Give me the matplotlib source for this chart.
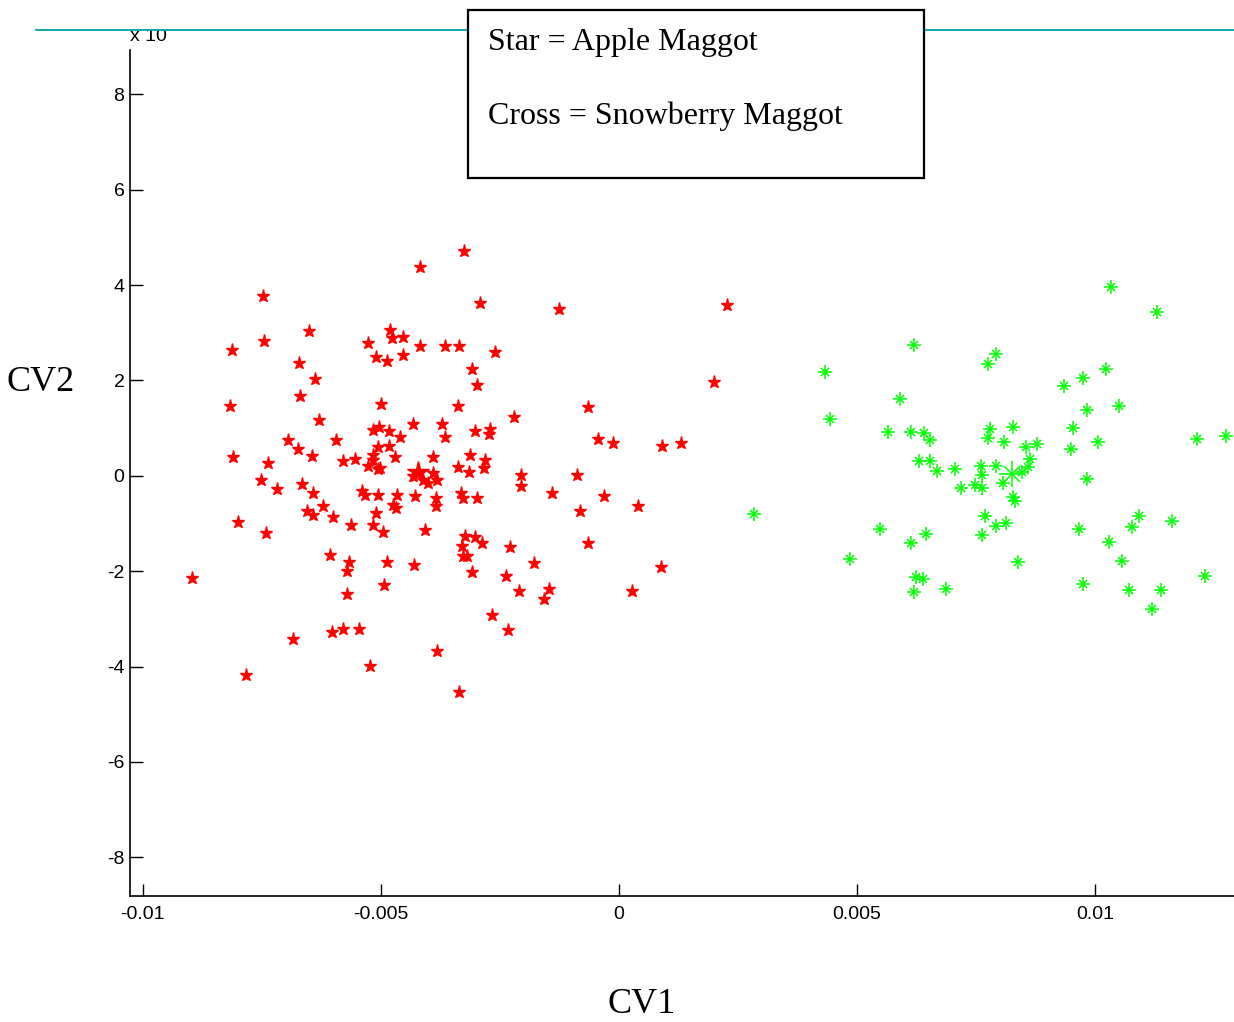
import matplotlib
matplotlib.use('Agg')
import matplotlib.pyplot as plt
from matplotlib.patches import Rectangle
from matplotlib.lines import Line2D

# ---- data (CV1 in raw units, CV2 in units of the axis multiplier) ----
apple_cv1 = [-7.485, -8.137, -7.458, -6.506, -6.723, -6.387, -8.172, -6.695, -6.296, -5.000,
             -5.273, -5.111, -4.874, -4.805, -4.769, -6.947, -6.750, -6.456, -5.939, -5.162,
             -5.036, -4.826, -5.069, -4.838, -5.174, -5.162, -8.109, -7.380, -5.792, -5.540,
             -5.267, -5.069, -4.712, -7.515, -7.179, -6.666, -6.422, -6.561, -6.422, -6.225,
             -6.002, -5.630, -5.393, -5.330, -5.069, -4.670, -5.111, -5.174, -4.964, -4.742,
             -4.685, -8.010, -7.422, -8.971, -6.065, -5.672, -5.708, -5.714, -4.880, -4.943,
             -6.855, -6.036, -5.792, -5.468, -5.231, -7.842, -3.250, -4.181, -2.926, -1.267,
             2.263, 1.989, -4.544, -4.181, -3.649, -3.355, -2.599, -4.544, -3.095, -2.989,
             -3.389, -2.206, -0.651, -0.447, -0.120, 0.903, 1.296, -4.321, -3.718, -3.649,
             -3.025, -2.710, -2.725, -4.601, -3.914, -3.130, -2.809, -2.830, -3.389, -3.158,
             -4.321, -4.111, -3.901, -3.830, -4.006, -5.021, -2.059, -2.059, -0.876, -1.408,
             -0.315, 0.405, -0.819, -4.286, -3.845, -3.845, -3.326, -3.284, -2.989, -4.076,
             -3.235, -3.025, -2.884, -3.305, -3.271, -3.187, -3.095, -2.296, -1.779, -2.368,
             -2.101, -1.471, -1.576, -0.651, 0.279, 0.876, -4.313, -2.662, -2.332, -3.817,
             -3.361]
apple_cv2 = [3.78, 2.63, 2.83, 3.03, 2.36, 2.03, 1.47, 1.68, 1.17, 1.51,
             2.78, 2.49, 2.40, 3.06, 2.90, 0.75, 0.56, 0.42, 0.75, 0.96,
             1.03, 0.94, 0.61, 0.62, 0.44, 0.34, 0.39, 0.28, 0.32, 0.36,
             0.21, 0.14, 0.39, -0.08, -0.28, -0.17, -0.35, -0.73, -0.82, -0.64,
             -0.87, -1.04, -0.31, -0.40, -0.40, -0.40, -0.77, -1.03, -1.17, -0.61,
             -0.68, -0.96, -1.20, -2.15, -1.66, -1.81, -1.99, -2.47, -1.80, -2.29,
             -3.42, -3.28, -3.21, -3.21, -3.98, -4.17, 4.71, 4.38, 3.62, 3.49,
             3.59, 1.97, 2.92, 2.73, 2.73, 2.73, 2.59, 2.53, 2.24, 1.91,
             1.47, 1.24, 1.45, 0.78, 0.69, 0.62, 0.69, 1.08, 1.08, 0.82,
             0.95, 0.99, 0.88, 0.82, 0.40, 0.44, 0.34, 0.16, 0.19, 0.09,
             -0.01, -0.08, 0.06, -0.08, -0.15, 0.16, 0.02, -0.21, 0.02, -0.36,
             -0.43, -0.64, -0.73, -0.43, -0.47, -0.64, -0.36, -0.47, -0.47, -1.13,
             -1.27, -1.29, -1.40, -1.47, -1.68, -1.69, -2.02, -1.49, -1.82, -2.11,
             -2.42, -2.38, -2.58, -1.40, -2.42, -1.92, -1.86, -2.91, -3.24, -3.67,
             -4.53]
apple_center = (-4.216, 0.09)

snow_cv1 = [10.336, 11.296, 6.204, 7.920, 7.758, 4.328, 10.231, 9.742, 9.342, 5.910,
            9.832, 10.498, 4.426, 5.651, 6.128, 6.401, 6.534, 7.788, 7.758, 8.284,
            8.082, 9.532, 9.496, 10.069, 8.544, 8.775, 8.628, 12.149, 12.746, 6.303,
            6.540, 6.674, 7.065, 7.611, 7.920, 7.626, 8.460, 8.599, 8.074, 7.473,
            7.626, 7.179, 9.832, 8.284, 8.319, 2.836, 7.683, 7.920, 8.124, 7.626,
            9.670, 10.924, 10.771, 11.624, 10.294, 5.477, 6.443, 6.134, 4.859, 8.389,
            10.567, 6.233, 6.393, 6.197, 6.876, 9.742, 10.721, 11.393, 12.317, 11.197]
snow_cv2 = [3.97, 3.44, 2.74, 2.55, 2.34, 2.18, 2.25, 2.05, 1.88, 1.62,
            1.39, 1.46, 1.19, 0.92, 0.93, 0.90, 0.75, 0.98, 0.79, 1.03,
            0.70, 1.00, 0.57, 0.70, 0.61, 0.67, 0.36, 0.77, 0.84, 0.31,
            0.31, 0.10, 0.14, 0.21, 0.21, 0.01, 0.09, 0.18, -0.15, -0.19,
            -0.26, -0.26, -0.06, -0.45, -0.52, -0.79, -0.85, -1.05, -0.98, -1.25,
            -1.11, -0.85, -1.08, -0.94, -1.38, -1.11, -1.21, -1.41, -1.74, -1.81,
            -1.78, -2.12, -2.17, -2.44, -2.37, -2.26, -2.40, -2.40, -2.10, -2.79]
snow_center = (8.263, 0.04)

x_ticks = [-0.01, -0.005, 0, 0.005, 0.01]
x_labels = ['-0.01', '-0.005', '0', '0.005', '0.01']
y_ticks = [-8, -6, -4, -2, 0, 2, 4, 6, 8]
legend_lines = ['Star = Apple Maggot', 'Cross = Snowberry Maggot']

W, H = 1234, 1022
fig = plt.figure(figsize=(W / 100, H / 100), dpi=100)
ax = fig.add_axes([130 / W, 1 - 896 / H, 1 - 130 / W, (896 - 50) / H])

ax_x = [v / 1000 for v in apple_cv1]
sn_x = [v / 1000 for v in snow_cv1]

ax.plot(ax_x, apple_cv2, linestyle='none', marker='*', ms=9.5,
        color='#ff0000', mec='#ff0000', clip_on=False)
ax.plot([apple_center[0] / 1000], [apple_center[1]], linestyle='none', marker='*',
        ms=16, color='#ff0000', mec='#ff0000', clip_on=False)

green = '#00ff00'
ax.plot(sn_x, snow_cv2, linestyle='none', marker='+', ms=10, mew=1.1,
        color=green, clip_on=False)
ax.plot(sn_x, snow_cv2, linestyle='none', marker='x', ms=6, mew=1.1,
        color=green, clip_on=False)
ax.plot([snow_center[0] / 1000], [snow_center[1]], linestyle='none', marker='+',
        ms=19, mew=1.1, color=green, clip_on=False)
ax.plot([snow_center[0] / 1000], [snow_center[1]], linestyle='none', marker='x',
        ms=12, mew=1.1, color=green, clip_on=False)

ax.set_xlim(-0.01027, 0.01292)
ax.set_ylim(-8.81, 8.93)
ax.set_xticks(x_ticks)
ax.set_xticklabels(x_labels)
ax.set_yticks(y_ticks)
ax.set_yticklabels([str(t) for t in y_ticks])
for s in ['top', 'right']:
    ax.spines[s].set_visible(False)
for s in ['left', 'bottom']:
    ax.spines[s].set_linewidth(1.2)
ax.tick_params(axis='both', direction='in', length=9, width=1.0,
               labelsize=14, colors='black')
ax.tick_params(axis='x', pad=7)
ax.tick_params(axis='y', pad=4)
for lab in ax.get_xticklabels() + ax.get_yticklabels():
    lab.set_fontfamily('Liberation Sans')

serif = 'Liberation Serif'
fig.text(6 / W, 1 - 391 / H, 'CV2', fontfamily=serif, fontsize=26,
         ha='left', va='baseline')
fig.text(642 / W, 1 - 1013 / H, 'CV1', fontfamily=serif, fontsize=26,
         ha='center', va='baseline')

fig.text(130 / W, 1 - 41 / H, 'x 10', fontfamily='Liberation Sans', fontsize=14,
         ha='left', va='baseline', zorder=3)
fig.add_artist(Rectangle((0, 1 - 30 / H), 1, 30 / H, transform=fig.transFigure,
                         facecolor='white', edgecolor='none', zorder=5))
fig.add_artist(Line2D([36 / W, 1], [1 - 30 / H, 1 - 30 / H], transform=fig.transFigure,
                      color='#00a0a0', lw=1.3, zorder=6))

fig.add_artist(Rectangle((468 / W, 1 - 178 / H), (924 - 468) / W, (178 - 10) / H,
                         transform=fig.transFigure, facecolor='white',
                         edgecolor='black', lw=1.6, zorder=7))
fig.text(488 / W, 1 - 50 / H, legend_lines[0], fontfamily=serif, fontsize=23,
         ha='left', va='baseline', zorder=8)
fig.text(488 / W, 1 - 124 / H, legend_lines[1], fontfamily=serif, fontsize=23,
         ha='left', va='baseline', zorder=8)

fig.savefig('out.png', dpi=100, facecolor='white')
